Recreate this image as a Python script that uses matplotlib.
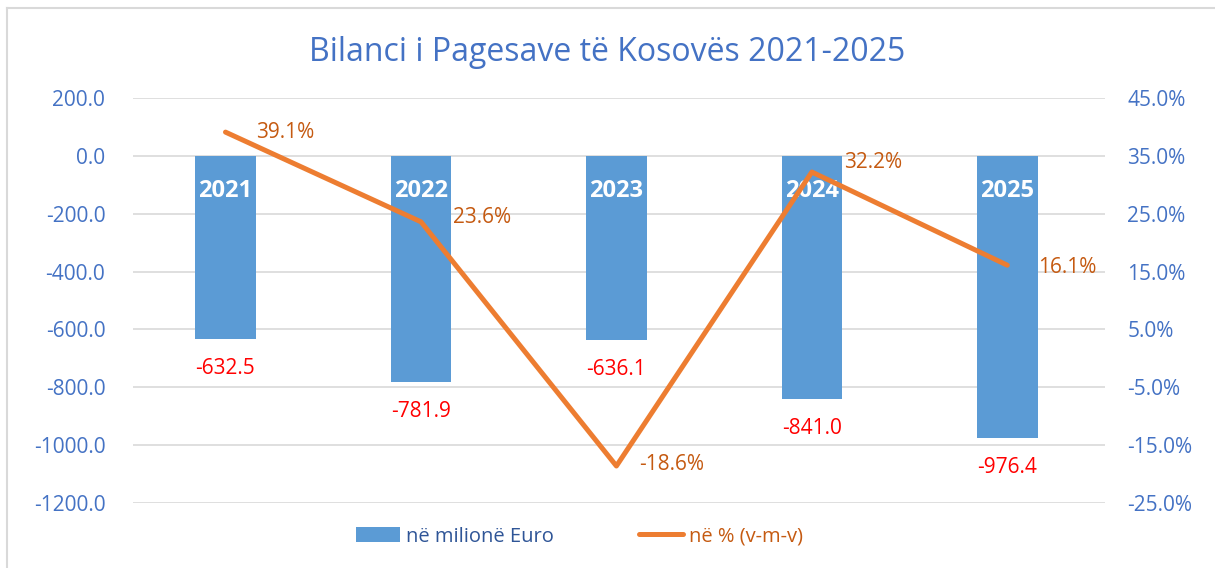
import matplotlib.pyplot as plt
from matplotlib.lines import Line2D

plt.rcParams['font.family'] = ['Open Sans', 'DejaVu Sans']

# data
years = ['2021', '2022', '2023', '2024', '2025']
balance = [-632.5, -781.9, -636.1, -841.0, -976.4]   # në milionë Euro
growth = [39.1, 23.6, -18.6, 32.2, 16.1]             # në % (v-m-v)
left_ticks = [200, 0, -200, -400, -600, -800, -1000, -1200]
right_ticks = [45, 35, 25, 15, 5, -5, -15, -25]

bar_col = '#5B9BD5'
line_col = '#ED7D31'
lab_col = '#C55A11'
tick_col = '#4472C4'

fig = plt.figure(figsize=(12.15, 5.68), dpi=100)
ax = fig.add_axes([0.1095, 0.1144, 0.8, 0.7131])
ax2 = ax.twinx()

x = list(range(len(years)))
bars = ax.bar(x, balance, width=0.31, color=bar_col, zorder=2, label='në milionë Euro')
ax.set_xlim(-0.473, len(years) - 0.5)
ax.set_ylim(-1200, 200)
ax.set_yticks(left_ticks)
ax.set_yticklabels(['%.1f' % v for v in left_ticks])
ax.grid(axis='y', color='#D9D9D9', linewidth=1.2, zorder=0)
ax.set_axisbelow(True)
ax.set_xticks([])
ax.tick_params(axis='y', length=0, pad=20, labelsize=15, labelcolor=tick_col)

for i, v in enumerate(balance):
    ax.annotate(years[i], (i, 0), xytext=(0, -25), textcoords='offset points',
                ha='center', va='center', color='white', fontsize=17, fontweight='bold', zorder=5)
    ax.annotate('%.1f' % v, (i, v), xytext=(0, -21), textcoords='offset points',
                ha='center', va='center', color='#FF0000', fontsize=15)

ax2.plot(x, growth, color=line_col, linewidth=3.6, solid_capstyle='round', zorder=4,
         label='në % (v-m-v)')
ax2.set_ylim(-25, 45)
ax2.set_yticks(right_ticks)
ax2.set_yticklabels(['%.1f%%' % v for v in right_ticks])
ax2.tick_params(axis='y', length=0, pad=16, labelsize=15, labelcolor=tick_col)
offs = [(22, 0), (23, 3), (16, 1), (23, 7), (22, -2)]
for i, v in enumerate(growth):
    ax2.annotate('%.1f%%' % v, (i, v), xytext=offs[i], textcoords='offset points',
                 ha='left', va='center', color=lab_col, fontsize=15)

for a in (ax, ax2):
    for s in a.spines.values():
        s.set_visible(False)

fig.text(0.5, 0.908, 'Bilanci i Pagesave të Kosovës 2021-2025', ha='center', va='center',
         color=tick_col, fontsize=23)

handles = [bars, Line2D([0], [0], color=line_col, linewidth=3.6, solid_capstyle='round')]
leg = fig.legend(handles, ['në milionë Euro', 'në % (v-m-v)'], loc='center',
                 bbox_to_anchor=(0.477, 0.055), ncol=2, frameon=False, fontsize=14.5,
                 handlelength=2.2, handleheight=0.8, columnspacing=4.2, handletextpad=0.3)
for t, c in zip(leg.get_texts(), ['#2F5597', lab_col]):
    t.set_color(c)

# outer chart frame
fig.add_artist(Line2D([7 / 1215, 7 / 1215], [0, 1 - 8 / 568], color='#D9D9D9', linewidth=1.5))
fig.add_artist(Line2D([7 / 1215, 1], [1 - 8 / 568, 1 - 8 / 568], color='#D9D9D9', linewidth=1.5))

fig.savefig('out.png', dpi=100)
